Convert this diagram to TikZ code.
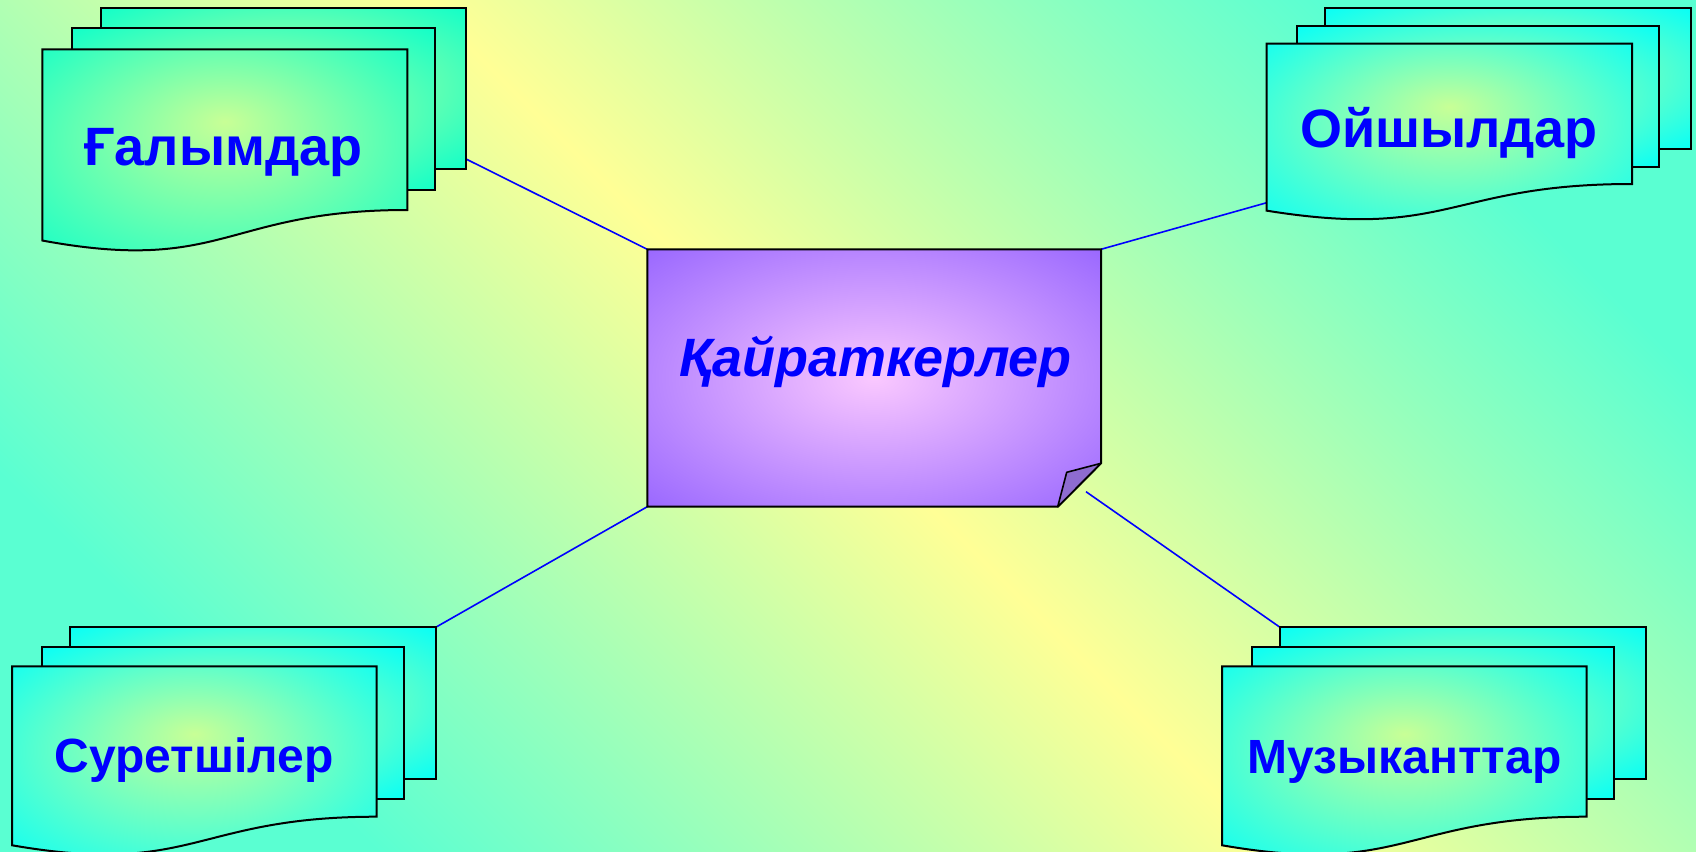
\documentclass[tikz,border=0pt]{standalone}
\usepackage{fontspec}
\setmainfont{Liberation Sans}
\definecolor{bgaqua}{RGB}{90,255,210}
\definecolor{bgyel}{RGB}{255,255,150}
\definecolor{docin}{RGB}{200,255,150}
\definecolor{docgreen}{RGB}{20,255,200}
\definecolor{doccyan}{RGB}{10,255,245}
\definecolor{purpin}{RGB}{250,200,255}
\definecolor{purpout}{RGB}{155,105,255}
\definecolor{foldc}{RGB}{142,108,208}
\pgfdeclareradialshading{purprad}{\pgfpoint{0bp}{0bp}}{color(0bp)=(purpin); color(35bp)=(purpout); color(50bp)=(purpout)}
\pgfdeclareradialshading{greenrad}{\pgfpoint{0bp}{0bp}}{color(0bp)=(docin); color(35bp)=(docgreen); color(50bp)=(docgreen)}
\pgfdeclareradialshading{cyanrad}{\pgfpoint{0bp}{0bp}}{color(0bp)=(docin); color(35bp)=(doccyan); color(50bp)=(doccyan)}
\pgfdeclareradialshading{greenradf}{\pgfpoint{0bp}{9bp}}{color(0bp)=(docin); color(36bp)=(docgreen); color(50bp)=(docgreen)}
\pgfdeclareradialshading{cyanradf}{\pgfpoint{0bp}{9bp}}{color(0bp)=(docin); color(36bp)=(doccyan); color(50bp)=(doccyan)}
\newcommand\docfront[5]{% x, y, w, h, shading
  \shade[shading=#5, boxline]
    (#1,#2) -- ++(#3,0) -- ++(0,#4)
    .. controls ({#1+#3/2},{#2+#4}) and ({#1+#3/2},{#2+1.40*#4}) ..
    (#1,{#2+1.19*#4}) -- cycle;}
\newcommand\docback[5]{% x1, y1, x2, y2, shading
  \shade[shading=#5, boxline] (#1,#2) rectangle (#3,#4);}
\begin{document}
\begin{tikzpicture}[x=1pt,y=-1pt,
  boxline/.style={draw=black, line width=2pt},
  link/.style={draw=blue, line width=1.6pt},
  lbl/.style={text=blue, font=\fontsize{54}{60}\selectfont\bfseries, inner sep=0pt, anchor=base},
  slbl/.style={lbl, font=\fontsize{48}{54}\selectfont\bfseries},
  ilbl/.style={lbl, font=\fontsize{54}{60}\selectfont\bfseries\itshape}]
\useasboundingbox (0,0) rectangle (1696,851);
\shade[top color=bgaqua, bottom color=bgaqua, middle color=bgyel, shading angle=-45] (0,0) rectangle (1696,851);
% connector end points
\coordinate (gal) at (466,159);
\coordinate (oi) at (1266.7,202.7);
\coordinate (sur) at (435.7,627.3);
\coordinate (muz) at (1280,627.3);
\coordinate (ctl) at (647.3,249.3);
\coordinate (ctr) at (1101,249.3);
\coordinate (cbl) at (647.3,506.7);
\coordinate (cbr) at (1086,491.7);
\draw[link] (gal) -- (ctl);
\draw[link] (ctr) -- (oi);
\draw[link] (sur) -- (cbl);
\draw[link] (cbr) -- (muz);
% central note
\shade[shading=purprad, boxline]
  (647.3,249.3) -- (1101,249.3) -- (1101,463.3) -- (1057.7,506.7) -- (647.3,506.7) -- cycle;
\filldraw[fill=foldc, draw=black, line width=1.6pt, line join=round]
  (1101,463.3) -- (1066.7,472.3) -- (1057.7,506.7) -- cycle;
\node[ilbl] (kai) at (875.5,376.7) {Қайраткерлер};
% Galymdar
\docback{100.7}{8}{466}{169}{greenrad}
\docback{72.3}{28.3}{434.7}{190}{greenrad}
\docfront{42.3}{49.3}{365}{160.7}{greenradf}
\node[lbl] (galt) at (223.5,165.7) {Ғалымдар};
% Oishyldar
\docback{1325.3}{8}{1690.7}{148.7}{cyanrad}
\docback{1297.3}{25.7}{1659}{167.3}{cyanrad}
\docfront{1266.7}{43.7}{365.3}{140.3}{cyanradf}
\node[lbl] (oit) at (1449,147.3) {Ойшылдар};
% Suretshiler
\docback{70}{627.3}{435.7}{779}{cyanrad}
\docback{41.7}{646.7}{404.3}{798.7}{cyanrad}
\docfront{12}{666.3}{364.7}{150.4}{cyanradf}
\node[slbl] (surt) at (194.2,772.3) {Суретшілер};
% Muzykanttar
\docback{1280}{627.3}{1645.7}{779}{cyanrad}
\docback{1251.7}{646.7}{1614}{798.7}{cyanrad}
\docfront{1222}{666.3}{364.7}{150.4}{cyanradf}
\node[slbl] (muzt) at (1404.7,773.5) {Музыканттар};
\end{tikzpicture}
\end{document}
